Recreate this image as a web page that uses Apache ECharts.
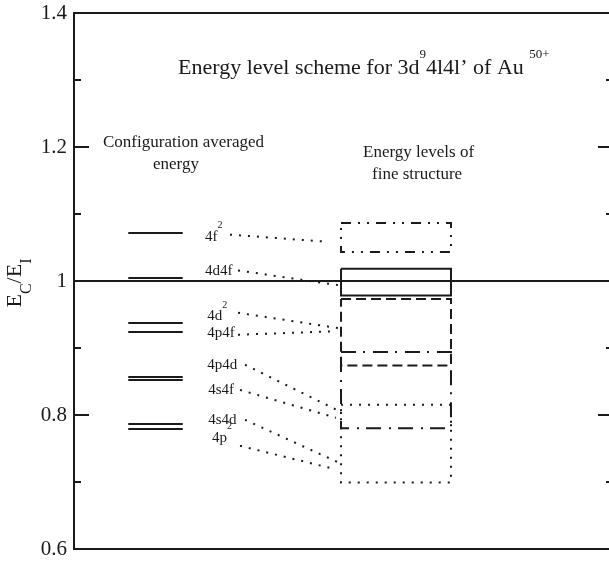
<!DOCTYPE html>
<html><head><meta charset="utf-8">
<script src="https://cdn.jsdelivr.net/npm/echarts@6/dist/echarts.min.js"></script>
<style>html,body{margin:0;padding:0;background:#fff}#c{width:609px;height:563px}</style>
</head><body><div id="c"></div>
<script>
// ---- data ----
const yTicks = [0.6, 0.8, 1, 1.2, 1.4];
const configBase = ['4f', '4d4f', '4d', '4p4f', '4p4d', '4s4f', '4s4d', '4p'];
const configSup  = ['2', '', '2', '', '', '', '', '2'];
const avgEnergy  = [1.0717, 1.0045, 0.9382, 0.9247, 0.8578, 0.8526, 0.7864, 0.7789];
const labelEnergy = [1.0662, 1.0143, 0.9471, 0.9223, 0.8750, 0.8375, 0.7928, 0.7659];
const linkStartEnergy = [1.0692, 1.0158, 0.9526, 0.9198, 0.8750, 0.8375, 0.7928, 0.7540];
const linkEndEnergy   = [1.0587, 0.9934, 0.9298, 0.9247, 0.8052, 0.7958, 0.7281, 0.7192];
const boxTop    = [1.0866, 1.0184, 0.9731, 0.8939, 0.8152];
const boxBottom = [1.0433, 0.9785, 0.8739, 0.7804, 0.6991];
const boxStyle  = ['dashdotdot', 'solid', 'dashed', 'dashdot', 'dotted'];
const referenceLevel = 1;

// ---- layout (schematic x positions in axis units 0..100) ----
const avgX = [10.07, 20.17];
const labelX = [24.3, 24.3, 24.7, 24.7, 24.7, 24.9, 24.9, 25.6];
const linkStartX = [28.94, 30.43, 30.43, 30.43, 31.73, 30.80, 31.73, 30.80];
const linkEndX   = [46.75, 49.35, 48.98, 47.50, 49.35, 48.61, 49.35, 48.42];
const boxX = [49.54, 69.94];
const dashes = {
  dashdotdot: [10, 7, 2, 7, 2, 7],
  solid: 'solid',
  dashed: [10, 5],
  dashdot: [15, 7, 2, 8],
  dotted: [2, 7]
};
const INK = '#1a1a1a';
const SERIF = '"Liberation Serif", "DejaVu Serif", serif';

const chart = echarts.init(document.getElementById('c'), null, {renderer: 'canvas'});

const avgLines = avgEnergy.map(v => ({coords: [[avgX[0], v], [avgX[1], v]]}));
const links = linkStartEnergy.map((v, i) => ({coords: [[linkStartX[i], v], [linkEndX[i], linkEndEnergy[i]]]}));
const boxes = boxTop.map((t, i) => ({
  coords: [[boxX[0], t], [boxX[1], t], [boxX[1], boxBottom[i]], [boxX[0], boxBottom[i]], [boxX[0], t]],
  lineStyle: {type: dashes[boxStyle[i]], width: 2, color: INK}
}));
const labels = configBase.map((b, i) => ({
  value: [labelX[i], labelEnergy[i]],
  label: {formatter: '{a|' + b + '}' + (configSup[i] ? '{s|' + configSup[i] + '}' : '')}
}));

const tickCommon = {
  axisTick: {show: true, inside: true, length: 15, lineStyle: {color: INK, width: 2}},
  minorTick: {show: true, splitNumber: 2, length: 7, lineStyle: {color: INK, width: 2}},
  splitLine: {show: false}, minorSplitLine: {show: false}
};

chart.setOption({
  animation: false,
  backgroundColor: '#fff',
  grid: {left: 74, right: -4, top: 13, bottom: 14, show: true, borderColor: INK, borderWidth: 2,
         backgroundColor: 'transparent', outerBoundsMode: 'none', containLabel: false},
  xAxis: {type: 'value', min: 0, max: 100, show: false},
  yAxis: [
    Object.assign({type: 'value', min: yTicks[0], max: yTicks[yTicks.length - 1], interval: 0.2,
      position: 'left',
      axisLine: {show: true, lineStyle: {color: INK, width: 2}},
      axisLabel: {show: true, color: INK, fontFamily: SERIF, fontSize: 21, margin: 7,
        formatter: v => String(+v.toFixed(1))}}, tickCommon),
    Object.assign({type: 'value', min: yTicks[0], max: yTicks[yTicks.length - 1], interval: 0.2,
      position: 'right',
      axisLine: {show: false}, axisLabel: {show: false}}, tickCommon)
  ],
  series: [
    {type: 'lines', coordinateSystem: 'cartesian2d', silent: true,
     lineStyle: {color: INK, width: 2, type: 'solid', opacity: 1},
     data: [{coords: [[0, referenceLevel], [100, referenceLevel]]}]},
    {type: 'lines', coordinateSystem: 'cartesian2d', silent: true,
     lineStyle: {color: INK, width: 2, type: 'solid', opacity: 1}, data: avgLines},
    {type: 'lines', coordinateSystem: 'cartesian2d', silent: true,
     lineStyle: {color: INK, width: 2, type: [2, 7], opacity: 1}, data: links},
    {type: 'lines', coordinateSystem: 'cartesian2d', polyline: true, silent: true,
     lineStyle: {color: INK, width: 2, opacity: 1}, data: boxes},
    {type: 'scatter', symbolSize: 0, silent: true, data: labels,
     itemStyle: {color: INK, opacity: 1},
     label: {show: true, position: 'right', distance: 0, color: INK, opacity: 1,
       textBorderWidth: 0,
       rich: {a: {fontFamily: SERIF, fontSize: 15, color: INK, textBorderWidth: 0},
              s: {fontFamily: SERIF, fontSize: 10, color: INK, textBorderWidth: 0, padding: [0, 0, 22, 0]}}}}
  ],
  graphic: [
    {type: 'text', x: 178, y: 68, silent: true,
     style: {text: '{a|Energy level scheme for 3d}{s|9}{a|4l4l’ of Au }{s|50+}',
       align: 'left', verticalAlign: 'middle',
       rich: {a: {fontFamily: SERIF, fontSize: 22, fill: INK},
              s: {fontFamily: SERIF, fontSize: 13, fill: INK, padding: [0, 0, 26, 0]}}}},
    {type: 'text', x: 103, y: 143, silent: true,
     style: {text: 'Configuration averaged', font: '17px ' + SERIF, fill: INK, align: 'left', verticalAlign: 'middle'}},
    {type: 'text', x: 153, y: 165, silent: true,
     style: {text: 'energy', font: '17px ' + SERIF, fill: INK, align: 'left', verticalAlign: 'middle'}},
    {type: 'text', x: 363, y: 153, silent: true,
     style: {text: 'Energy levels of', font: '17px ' + SERIF, fill: INK, align: 'left', verticalAlign: 'middle'}},
    {type: 'text', x: 372, y: 175, silent: true,
     style: {text: 'fine structure', font: '17px ' + SERIF, fill: INK, align: 'left', verticalAlign: 'middle'}},
    {type: 'text', x: 15, y: 283, rotation: Math.PI / 2, silent: true,
     style: {text: '{a|E}{b|C}{a|/E}{b|I}', align: 'center', verticalAlign: 'middle',
       rich: {a: {fontFamily: SERIF, fontSize: 22, fill: INK},
              b: {fontFamily: SERIF, fontSize: 16, fill: INK, padding: [24, 0, 0, 0]}}}}
  ]
});
</script>
</body></html>
